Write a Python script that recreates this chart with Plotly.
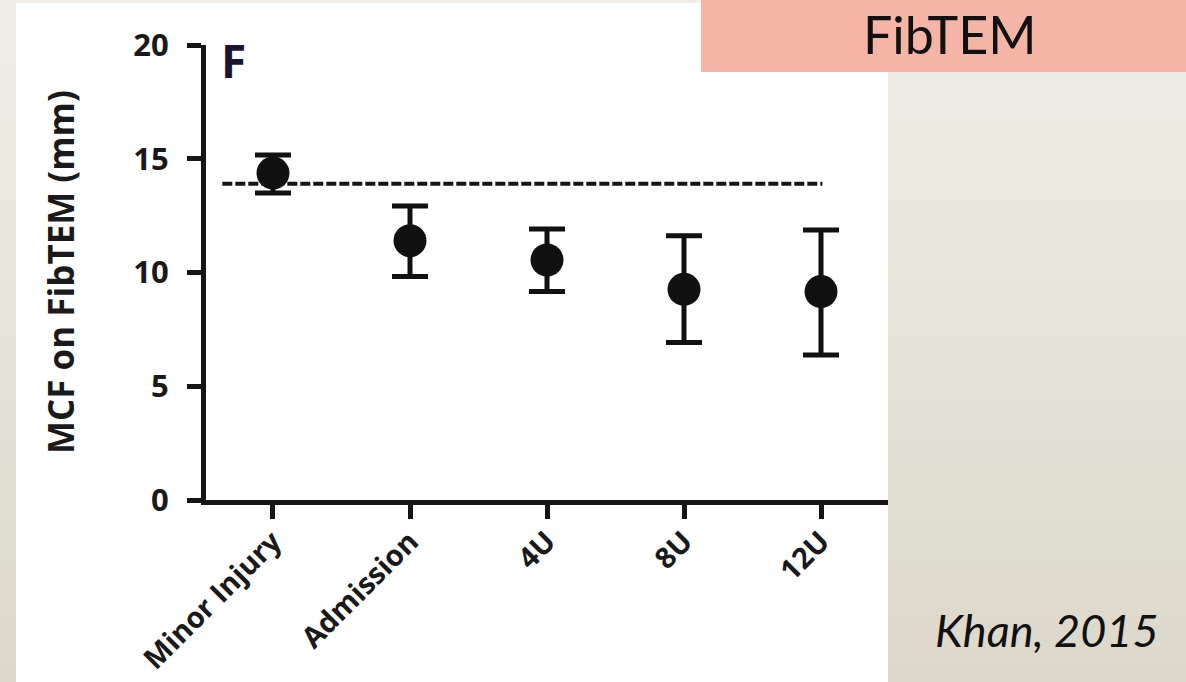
import plotly.graph_objects as go

# ---- data ----
categories = ["Minor Injury", "Admission", "4U", "8U", "12U"]
means = [14.37, 11.40, 10.55, 9.26, 9.16]
upper = [15.16, 12.92, 11.91, 11.62, 11.87]
lower = [13.49, 9.82, 9.16, 6.92, 6.37]
ref_value = 13.9
y_ticks = [0, 5, 10, 15, 20]

# ---- layout geometry (pixels) ----
FW, FH = 1186, 682
L, R, T, B = 206, 888, 45, 500
W, H = R - L, B - T


def px(x):
    return (x - L) / W


def py(y):
    return (B - y) / H


xs = list(range(len(categories)))
err_plus = [u - m for u, m in zip(upper, means)]
err_minus = [m - l for m, l in zip(means, lower)]

fig = go.Figure()

# dashed reference line spanning the categories
fig.add_trace(go.Scatter(
    x=[xs[0] - 0.37, xs[-1] + 0.01], y=[ref_value, ref_value],
    mode="lines", line=dict(color="#151515", width=4, dash="10px,3px"),
    hoverinfo="skip", showlegend=False))

fig.add_trace(go.Scatter(
    x=xs, y=means, mode="markers",
    marker=dict(size=33, color="#111111", line=dict(width=0)),
    error_y=dict(type="data", symmetric=False, array=err_plus, arrayminus=err_minus,
                 color="#111111", thickness=5, width=18),
    showlegend=False))

# background gradient bands
shapes = []
nb = 34
top_c = (239, 237, 230)
bot_c = (220, 217, 203)
for i in range(nb):
    t = i / (nb - 1)
    c = tuple(round(a + (b - a) * t) for a, b in zip(top_c, bot_c))
    y0 = i * FH / nb
    y1 = (i + 1) * FH / nb + 1
    shapes.append(dict(type="rect", xref="paper", yref="paper",
                       x0=px(0), x1=px(FW), y0=py(y1), y1=py(y0),
                       fillcolor="rgb(%d,%d,%d)" % c, line=dict(width=0), layer="below"))
# white panel
shapes.append(dict(type="rect", xref="paper", yref="paper",
                   x0=px(16), x1=px(888), y0=py(FH + 2), y1=py(3),
                   fillcolor="white", line=dict(width=0), layer="below"))
# salmon title box
shapes.append(dict(type="rect", xref="paper", yref="paper",
                   x0=px(701), x1=px(FW), y0=py(72), y1=py(0),
                   fillcolor="#f5b5a6", line=dict(width=0), layer="below"))

annotations = [
    dict(text="FibTEM", xref="paper", yref="paper", x=px(950), y=py(34),
         xanchor="center", yanchor="middle", showarrow=False,
         font=dict(family="Lato", size=52, color="#111111")),
    dict(text="<i>Khan, 2015</i>", xref="paper", yref="paper", x=px(1047), y=py(630),
         xanchor="center", yanchor="middle", showarrow=False,
         font=dict(family="Lato", size=45, color="#111111")),
    dict(text="F", xref="paper", yref="paper", x=px(219), y=py(60),
         xanchor="left", yanchor="middle", showarrow=False,
         font=dict(family="Open Sans", size=46, color="#1b1433", weight="bold")),
    dict(text="MCF on FibTEM (mm)", xref="paper", yref="paper", x=px(60), y=py(272),
         xanchor="center", yanchor="middle", textangle=-90, showarrow=False,
         font=dict(family="Open Sans", size=35, color="#1a1a1a", weight="bold")),
]

fig.update_layout(
    width=FW, height=FH,
    margin=dict(l=L, r=FW - R, t=T, b=FH - B, pad=0, autoexpand=False),
    paper_bgcolor="rgb(232,229,219)",
    plot_bgcolor="rgba(0,0,0,0)",
    shapes=shapes, annotations=annotations,
    showlegend=False,
    xaxis=dict(range=[-0.489, 4.489], tickvals=xs, ticktext=categories, tickangle=-45,
               automargin=False, ticklabelstandoff=-6,
               showline=True, linewidth=5, linecolor="#151515", showgrid=False, zeroline=False,
               ticks="outside", ticklen=14, tickwidth=5, tickcolor="#151515",
               tickfont=dict(family="Open Sans", size=29, color="#1a1a1a", weight="bold")),
    yaxis=dict(range=[0, 20], tickvals=y_ticks, ticklabelstandoff=12, automargin=False,
               showline=True, linewidth=5, linecolor="#151515", showgrid=False, zeroline=False,
               ticks="outside", ticklen=14, tickwidth=5, tickcolor="#151515",
               tickfont=dict(family="Open Sans", size=31, color="#1a1a1a", weight="bold")),
)

fig.write_html("out.html")
